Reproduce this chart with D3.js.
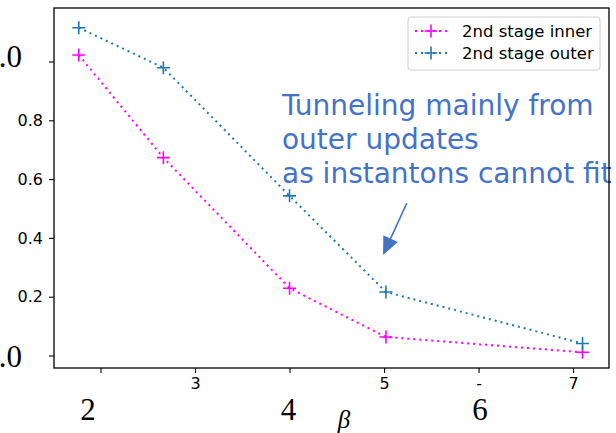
<!DOCTYPE html>
<html lang="en">
<head>
  <meta charset="UTF-8">
  <title>2nd stage tunneling</title>
  <style>
    body { margin: 0; background: #fff; }
    svg { display: block; }
  </style>
</head>
<body>
  <div class="canvas"></div>

  <script src="https://cdnjs.cloudflare.com/ajax/libs/d3/7.8.5/d3.min.js"></script>
  <script>
// data
const beta = [1.77, 2.665, 4.0, 5.02, 7.1];
const innerVals = [1.022, 0.673, 0.229, 0.063, 0.011];
const outerVals = [1.115, 0.979, 0.543, 0.216, 0.041];
const seriesNames = ['2nd stage inner', '2nd stage outer'];
const seriesColors = ['#ff00ff', '#1f77b4'];
const xTicks = [2, 3, 4, 5, 6, 7];
const xTickLabels = ['', '3', '', '5', '-', '7'];
const yTicks = [0, 0.2, 0.4, 0.6, 0.8, 1.0];
const yTickLabels = ['', '0.2', '0.4', '0.6', '0.8', ''];
const bigXLabels = [2, 4, 6];
const bigYLabels = [0, 1];
const noteLines = ['Tunneling mainly from', 'outer updates', 'as instantons cannot fit'];

const W = 616, H = 433;
const mLeft = 54, mRight = 609, mTop = 8, mBottom = 368;

const svg = d3.select('.canvas').append('svg')
  .attr('width', W)
  .attr('height', H);

const x = d3.scaleLinear().domain([1.508, 7.38]).range([mLeft, mRight]);
const y = d3.scaleLinear().domain([-0.0425, 1.182]).range([mBottom, mTop]);

// axes
const xAxis = d3.axisBottom(x)
  .tickValues(xTicks)
  .tickSize(5)
  .tickPadding(5)
  .tickFormat((d, i) => xTickLabels[i]);

const yAxis = d3.axisLeft(y)
  .tickValues(yTicks)
  .tickSize(5)
  .tickPadding(6)
  .tickFormat((d, i) => yTickLabels[i]);

const gx = svg.append('g')
  .attr('transform', `translate(0, ${mBottom})`)
  .call(xAxis);
const gy = svg.append('g')
  .attr('transform', `translate(${mLeft}, 0)`)
  .call(yAxis);

[gx, gy].forEach(g => {
  g.select('.domain').remove();
  g.selectAll('line').attr('stroke', '#000').attr('stroke-width', 1.1);
  g.selectAll('text')
    .attr('fill', '#000')
    .style('font-family', 'DejaVu Sans')
    .style('font-size', '16px');
});

// big serif labels overlaid on the axes
const bigXdx = { 2: -12.5, 4: -1, 6: 1.5 };
svg.selectAll('.bigx')
  .data(bigXLabels)
  .join('text')
  .attr('class', 'bigx')
  .attr('x', d => x(d) + bigXdx[d])
  .attr('y', 420)
  .attr('text-anchor', 'middle')
  .style('font-family', 'Liberation Serif')
  .style('font-size', '31px')
  .text(d => d);

const bigYdy = { 0: 11.5, 1: 5 };
svg.selectAll('.bigy')
  .data(bigYLabels)
  .join('text')
  .attr('class', 'bigy')
  .attr('x', 22)
  .attr('y', d => y(d) + bigYdy[d])
  .attr('text-anchor', 'end')
  .style('font-family', 'Liberation Serif')
  .style('font-size', '31px')
  .text(d => d3.format('.1f')(d));

svg.append('text')
  .attr('x', 344)
  .attr('y', 428)
  .attr('text-anchor', 'middle')
  .style('font-family', 'Liberation Serif')
  .style('font-style', 'italic')
  .style('font-size', '25px')
  .text('β');

// series
const series = [innerVals, outerVals].map((vals, i) => ({
  name: seriesNames[i],
  color: seriesColors[i],
  points: vals.map((v, j) => [beta[j], v])
}));

const line = d3.line().x(d => x(d[0])).y(d => y(d[1]));

const plus = (g, color) => {
  g.append('path')
    .attr('d', 'M -6.5 0 H 6.5 M 0 -6.5 V 6.5')
    .attr('stroke', color)
    .attr('stroke-width', 1.6)
    .attr('fill', 'none');
};

series.forEach(s => {
  svg.append('path')
    .datum(s.points)
    .attr('d', line)
    .attr('fill', 'none')
    .attr('stroke', s.color)
    .attr('stroke-width', 2)
    .attr('stroke-dasharray', '2,4');

  svg.selectAll(null)
    .data(s.points)
    .join('g')
    .attr('transform', d => `translate(${x(d[0])}, ${y(d[1])})`)
    .each(function () { plus(d3.select(this), s.color); });
});

// annotation
const noteColor = '#4472c4';
const note = svg.append('text')
  .attr('x', x(3.92))
  .attr('y', y(0.818))
  .attr('fill', noteColor)
  .style('font-family', 'DejaVu Sans')
  .style('font-size', '28px');
note.selectAll('tspan')
  .data(noteLines)
  .join('tspan')
  .attr('x', x(3.92))
  .attr('dy', (d, i) => i === 0 ? 0 : 34)
  .text(d => d);

const tail = [x(5.24), y(0.518)];
const tip = [x(4.99), y(0.342)];
const ang = Math.atan2(tip[1] - tail[1], tip[0] - tail[0]);
const headLen = 18, headW = 8;
const base = [tip[0] - headLen * Math.cos(ang), tip[1] - headLen * Math.sin(ang)];
svg.append('line')
  .attr('x1', tail[0]).attr('y1', tail[1])
  .attr('x2', base[0]).attr('y2', base[1])
  .attr('stroke', noteColor)
  .attr('stroke-width', 1.6);
svg.append('path')
  .attr('d', `M ${tip[0]} ${tip[1]}
    L ${base[0] + headW * Math.sin(ang)} ${base[1] - headW * Math.cos(ang)}
    L ${base[0] - headW * Math.sin(ang)} ${base[1] + headW * Math.cos(ang)} Z`)
  .attr('fill', noteColor);

// frame
svg.append('rect')
  .attr('x', mLeft)
  .attr('y', mTop)
  .attr('width', mRight - mLeft)
  .attr('height', mBottom - mTop)
  .attr('fill', 'none')
  .attr('stroke', '#000')
  .attr('stroke-width', 1.3);

// legend
const legend = svg.append('g').attr('transform', 'translate(408, 17)');
legend.append('rect')
  .attr('width', 192)
  .attr('height', 53)
  .attr('rx', 3)
  .attr('fill', '#fff')
  .attr('fill-opacity', 0.8)
  .attr('stroke', '#ccc');

const item = legend.selectAll('.item')
  .data(series)
  .join('g')
  .attr('class', 'item')
  .attr('transform', (d, i) => `translate(0, ${14 + i * 22})`);

item.append('line')
  .attr('x1', 7).attr('x2', 40)
  .attr('stroke', d => d.color)
  .attr('stroke-width', 2)
  .attr('stroke-dasharray', '2,4');
item.append('g')
  .attr('transform', 'translate(23, 0)')
  .each(function (d) { plus(d3.select(this), d.color); });
item.append('text')
  .attr('x', 54)
  .attr('y', 6)
  .style('font-family', 'DejaVu Sans')
  .style('font-size', '16.5px')
  .text(d => d.name);
  </script>
</body>
</html>
